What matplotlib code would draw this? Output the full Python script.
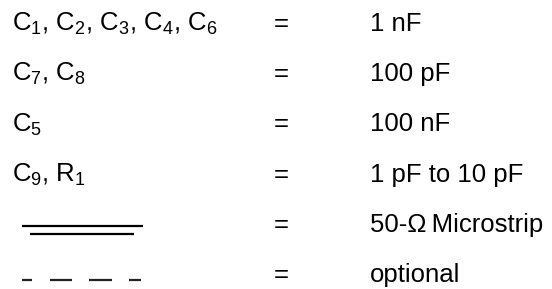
import matplotlib
matplotlib.use("Agg")
import matplotlib.pyplot as plt

plt.rcParams['font.family'] = ['Liberation Sans', 'DejaVu Sans']
plt.rcParams['mathtext.fontset'] = 'custom'
plt.rcParams['mathtext.rm'] = 'Liberation Sans'
plt.rcParams['mathtext.it'] = 'Liberation Sans'
plt.rcParams['mathtext.bf'] = 'Liberation Sans:bold'

# component legend rows
parts = [r'C$_\mathrm{1}$, C$_\mathrm{2}$, C$_\mathrm{3}$, C$_\mathrm{4}$, C$_\mathrm{6}$',
         r'C$_\mathrm{7}$, C$_\mathrm{8}$',
         r'C$_\mathrm{5}$',
         r'C$_\mathrm{9}$, R$_\mathrm{1}$',
         '',
         '']
values = ['1 nF', '100 pF', '100 nF', '1 pF to 10 pF',
          '50-\u03a9\u2009Microstrip', 'optional']

fig = plt.figure(figsize=(5.52, 2.89), dpi=100)
ax = fig.add_axes([0, 0, 1, 1])
ax.set_xlim(0, 552)
ax.set_ylim(289, 0)
ax.axis('off')

fs = 18.5
row_y = [31 + 50.2 * i for i in range(len(values))]
for y, p, v in zip(row_y, parts, values):
    if p:
        ax.text(12, y, p, fontsize=fs, va='baseline', ha='left')
    ax.text(274, y, '=', fontsize=fs, va='baseline', ha='left')
    ax.text(370, y, v, fontsize=fs, va='baseline', ha='left')

# microstrip symbol
ax.plot([22, 143], [225.5, 225.5], color='black', lw=1.6, solid_capstyle='butt')
ax.plot([30, 134], [233.5, 233.5], color='black', lw=1.6, solid_capstyle='butt')

# optional (dashed) symbol
for x0, x1 in [(22, 32), (50, 72), (89, 112), (129, 141)]:
    ax.plot([x0, x1], [280, 280], color='#222222', lw=1.6, solid_capstyle='butt')

fig.savefig('out.png', dpi=100)
